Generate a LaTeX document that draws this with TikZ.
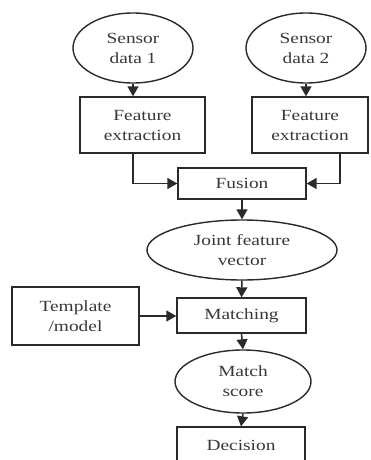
\documentclass[tikz,border=0pt]{standalone}
\usepackage{fontspec}
\setmainfont{Liberation Serif}[FakeStretch=1.25]
\usetikzlibrary{shapes.geometric,arrows.meta}
\definecolor{ink}{HTML}{2A2A2A}
\definecolor{txt}{HTML}{383838}
\begin{document}
\begin{tikzpicture}[x=1pt,y=-1pt,
  every node/.style={text=txt,font=\fontsize{15.5}{20}\selectfont,align=center,inner sep=0pt},
  blk/.style={draw=ink,line width=1.4pt,rectangle},
  oval/.style={draw=ink,line width=1.4pt,ellipse},
  flow/.style={draw=ink,line width=1.5pt,-{Triangle[length=10pt,width=11pt]}}]
\useasboundingbox (0,0) rectangle (371,460);
% inputs
\node[oval,minimum width=120pt,minimum height=70pt] (s1) at (133,48) {Sensor\\data 1};
\node[oval,minimum width=120pt,minimum height=70pt] (s2) at (306,48) {Sensor\\data 2};
% feature extraction
\node[blk,minimum width=125pt,minimum height=56pt] (fe1) at (142.5,125) {Feature\\extraction};
\node[blk,minimum width=116pt,minimum height=56pt] (fe2) at (310,125) {Feature\\extraction};
% main column
\node[blk,minimum width=128pt,minimum height=31pt] (fus) at (242,183.5) {Fusion};
\node[oval,minimum width=190pt,minimum height=60pt] (jfv) at (242,250) {Joint feature\\vector};
\node[blk,minimum width=129pt,minimum height=35pt] (mat) at (241.5,315.5) {Matching};
\node[blk,minimum width=127pt,minimum height=58pt] (tpl) at (75.5,316) {Template\\/model};
\node[oval,minimum width=136pt,minimum height=63pt] (msc) at (243,381.5) {Match\\score};
\node[blk,minimum width=128pt,minimum height=36pt] (dec) at (241,445) {Decision};
% connectors
\draw[flow] (s1.south) -- (s1.south |- fe1.north);
\draw[flow] (s2.south) -- (s2.south |- fe2.north);
\draw[flow] (s1 |- fe1.south) |- (fus.west);
\draw[flow] ([xshift=30pt]fe2.south) |- (fus.east);
\draw[flow] (fus.south) -- (jfv.north);
\draw[flow] (jfv.south) -- (mat.north);
\draw[flow] (tpl.east) -- (tpl.east -| mat.west);
\draw[flow] (mat.south) -- (msc.north);
\draw[flow] (msc.south) -- (dec.north);
\end{tikzpicture}
\end{document}
